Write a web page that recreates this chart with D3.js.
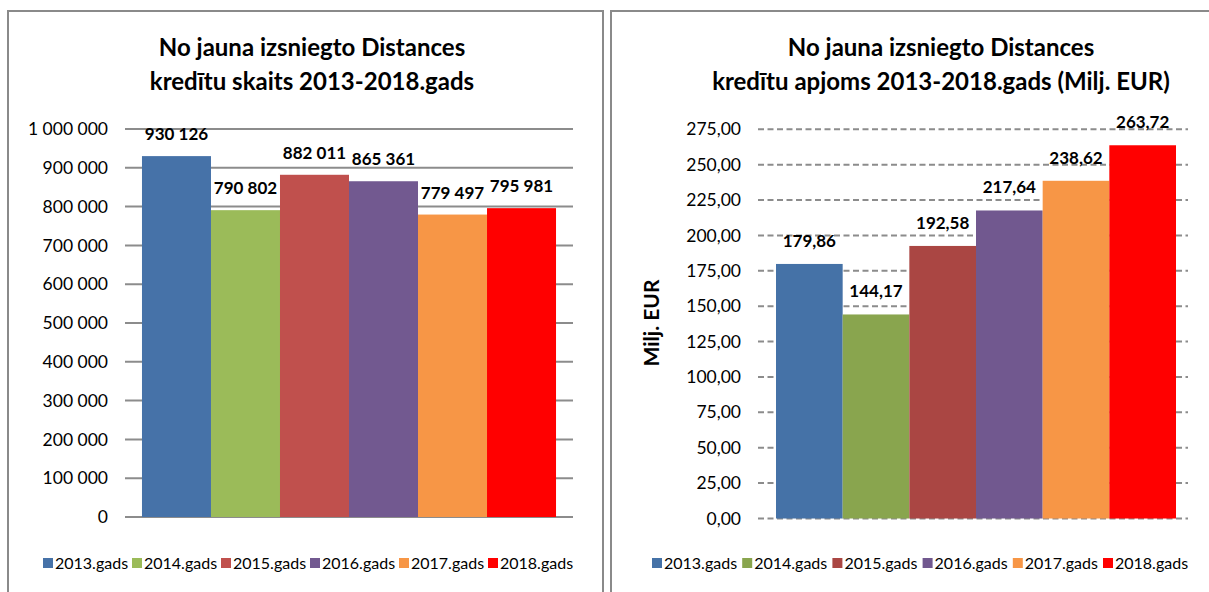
<!DOCTYPE html>
<html><head><meta charset="utf-8">
<script src="https://cdn.jsdelivr.net/npm/d3@7"></script>
<style>
html,body{margin:0;padding:0;background:#fff;}
svg{display:block;font-family:Lato,"Open Sans",sans-serif;}
</style></head>
<body>
<svg id="c" width="1209" height="592"></svg>
<script>
const categories = ["2013.gads","2014.gads","2015.gads","2016.gads","2017.gads","2018.gads"];
const countValues = [930126, 790802, 882011, 865361, 779497, 795981];
const volumeValues = [179.86, 144.17, 192.58, 217.64, 238.62, 263.72];
const countTicks = [0,100000,200000,300000,400000,500000,600000,700000,800000,900000,1000000];
const volumeTicks = [0,25,50,75,100,125,150,175,200,225,250,275];
const leftColors = ["#4672A8","#9BBB59","#C0504D","#725990","#F79646","#FF0000"];
const rightColors = ["#4572A7","#89A54E","#AA4643","#71588F","#F79646","#FF0000"];
const leftTitle = ["No jauna izsniegto Distances","kredītu skaits 2013-2018.gads"];
const rightTitle = ["No jauna izsniegto Distances","kredītu apjoms 2013-2018.gads (Milj. EUR)"];
const rightAxisTitle = "Milj. EUR";

const loc = d3.formatLocale({decimal:",", thousands:"\u00a0", grouping:[3], currency:["",""]});
const fmtCount = loc.format(",d");
const fmtVol = loc.format(",.2f");

const svg = d3.select("#c");

function panel(g, x0, x1){
  g.append("rect").attr("x",x0).attr("y",11).attr("width",x1-x0).attr("height",640)
   .attr("fill","#fff").attr("stroke","#8a8a8a").attr("stroke-width",2);
}

function chart(opt){
  const g = svg.append("g");
  panel(g, opt.px0, opt.px1);
  const x = d3.scaleBand().domain(categories).range(opt.xr).paddingInner(0).paddingOuter(opt.po).align(opt.align);
  const y = d3.scaleLinear().domain([0, opt.ticks[opt.ticks.length-1]]).range(opt.yr);
  // title
  g.append("text").attr("x",opt.tx).attr("y",56).attr("text-anchor","middle")
   .attr("font-weight","bold").attr("font-size",opt.titleSize).attr("fill","#000").text(opt.title[0]);
  g.append("text").attr("x",opt.tx).attr("y",90).attr("text-anchor","middle")
   .attr("font-weight","bold").attr("font-size",opt.titleSize).attr("fill","#000").text(opt.title[1]);
  // gridlines
  g.append("g").selectAll("line").data(opt.ticks).join("line")
   .attr("x1",opt.xr[0]).attr("x2",opt.xr[1]).attr("y1",d=>y(d)).attr("y2",d=>y(d))
   .attr("stroke","#8c8c8c").attr("stroke-width",2)
   .attr("stroke-dasharray", opt.dashed ? "6,3.5" : null);
  // axis labels
  const ax = g.append("g").attr("transform",`translate(${opt.xr[0]},0)`)
    .call(d3.axisLeft(y).tickValues(opt.ticks).tickFormat(opt.fmt).tickSize(0).tickPadding(opt.tickPad));
  ax.select(".domain").remove();
  ax.selectAll("text").attr("font-size",17.5).attr("fill","#000").attr("font-family","Lato,sans-serif");
  // bars
  g.append("g").selectAll("rect").data(opt.values).join("rect")
   .attr("x",(d,i)=>x(categories[i])).attr("width",x.bandwidth())
   .attr("y",d=>y(d)).attr("height",d=>y(0)-y(d)).attr("fill",(d,i)=>opt.colors[i]);
  // labels
  g.append("g").selectAll("text").data(opt.values).join("text")
   .attr("x",(d,i)=>x(categories[i])+x.bandwidth()/2).attr("y",d=>y(d)-opt.labOff)
   .attr("text-anchor","middle").attr("font-weight","bold").attr("font-size",17).attr("fill","#000")
   .text(d=>opt.fmt(d));
  // legend
  const lg = g.append("g");
  categories.forEach((c,i)=>{
    const lx = opt.legX + i*opt.legStep;
    lg.append("rect").attr("x",lx).attr("y",558).attr("width",10).attr("height",10).attr("fill",opt.colors[i]);
    lg.append("text").attr("x",lx+12).attr("y",569).attr("font-size",16).attr("fill","#000").text(c);
  });
  return g;
}

chart({px0:8, px1:603, xr:[125,573], po:0.246, align:0.5, yr:[517,129], ticks:countTicks,
  values:countValues, colors:leftColors, fmt:fmtCount, title:leftTitle, tx:312, titleSize:24,
  dashed:false, tickPad:17, labOff:16, legX:43, legStep:89});
const g2 = chart({px0:611, px1:1240, xr:[758,1188], po:0.225, align:0.6, yr:[518.5,129.3], ticks:volumeTicks,
  values:volumeValues, colors:rightColors, fmt:fmtVol, title:rightTitle, tx:941, titleSize:24,
  dashed:true, tickPad:17, labOff:17, legX:652, legStep:90.2});
g2.append("text").attr("transform","translate(659,323) rotate(-90)").attr("text-anchor","middle")
  .attr("font-weight","bold").attr("font-size",21).attr("fill","#000").text(rightAxisTitle);
</script>
</body></html>
